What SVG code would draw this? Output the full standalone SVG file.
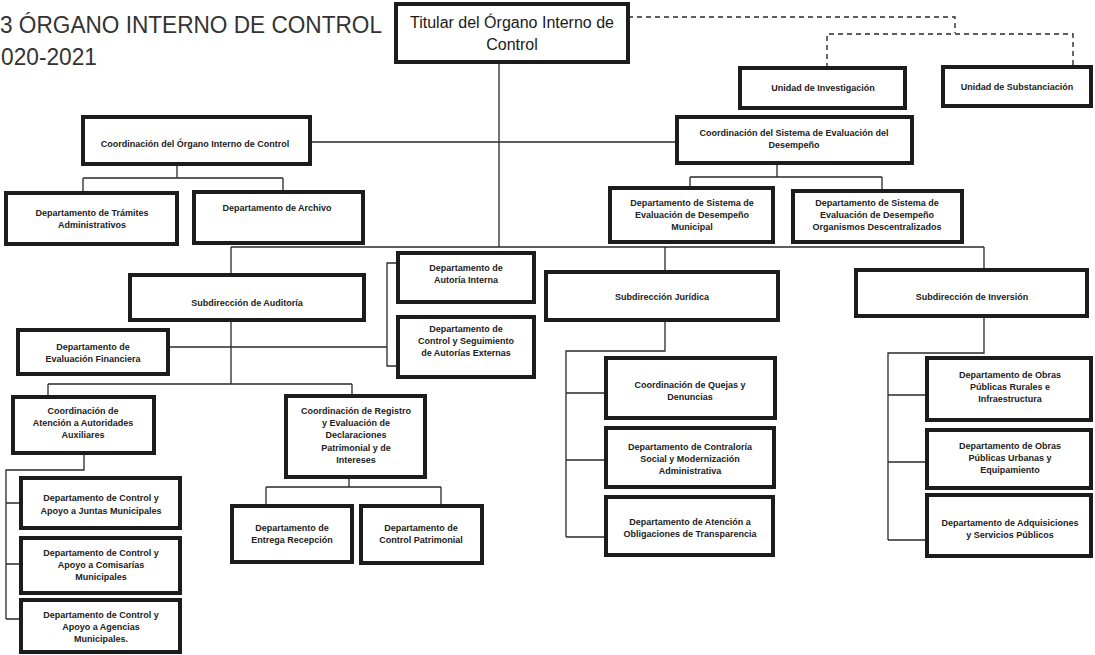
<svg xmlns="http://www.w3.org/2000/svg" width="1095" height="655" viewBox="0 0 1095 655">
<style>
.box{fill:#fff;stroke:#1c1c1c;stroke-width:4}
.t{font-family:"Liberation Sans",Arial,sans-serif;font-size:9px;font-weight:bold;fill:#222;text-anchor:middle}
.big{font-family:"Liberation Sans",Arial,sans-serif;font-size:16px;fill:#1a1a1a;text-anchor:middle}
.title{font-family:"Liberation Sans",Arial,sans-serif;font-size:23px;fill:#333}
.c{fill:none;stroke:#2a2a2a;stroke-width:1.3}
.d{fill:none;stroke:#2a2a2a;stroke-width:1.4;stroke-dasharray:5 4}
</style>
<rect width="1095" height="655" fill="#fff"/>
<g id="title">
<text class="title" x="0" y="33" textLength="382" lengthAdjust="spacingAndGlyphs">3 ÓRGANO INTERNO DE CONTROL</text>
<text class="title" x="1" y="65" textLength="96" lengthAdjust="spacingAndGlyphs">020-2021</text>
</g>
<g id="connectors">
<path class="d" d="M628 17H955V33M827 68V34H1073V67"/>
<path class="c" d="M499 62V247M310 142H677M231 247H984M231 247V275M665 247V272M984 247V270"/>
<path class="c" d="M177 164V178M83 178H283M83 178V193M283 178V192"/>
<path class="c" d="M777 163V177M690 177H882M690 177V188M882 177V191"/>
<path class="c" d="M231 320V384M48 384H352M48 384V397M352 384V396M168 347H387M398 263H387V366H398"/>
<path class="c" d="M84 453V470H6V619M6 503H21M6 564H21M6 619H21"/>
<path class="c" d="M349 477V487M266 487H441M266 487V506M441 487V506"/>
<path class="c" d="M665 320V351H566V537M566 393H606M566 460H606M566 537H606"/>
<path class="c" d="M984 316V353H888V540M888 395H927M888 462H927M888 540H927"/>
</g>
<g id="titular">
<rect class="box" x="396" y="4" width="232" height="58"/>
<text class="big" x="512" y="28">Titular del Órgano Interno de</text>
<text class="big" x="512" y="50">Control</text>
</g>
<g id="unidad-investigacion">
<rect class="box" x="740" y="68" width="165" height="40"/>
<text class="t" x="823" y="91">Unidad de Investigación</text>
</g>
<g id="unidad-substanciacion">
<rect class="box" x="943" y="67" width="148" height="39"/>
<text class="t" x="1017" y="90">Unidad de Substanciación</text>
</g>
<g id="coord-organo">
<rect class="box" x="83" y="117" width="227" height="47"/>
<text class="t" x="195" y="147">Coordinación del Órgano Interno de Control</text>
</g>
<g id="coord-sistema">
<rect class="box" x="677" y="117" width="235" height="46"/>
<text class="t" x="794" y="136">Coordinación del Sistema de Evaluación del</text>
<text class="t" x="794" y="148">Desempeño</text>
</g>
<g id="dep-tramites">
<rect class="box" x="6" y="193" width="171" height="51"/>
<text class="t" x="92" y="216">Departamento de Trámites</text>
<text class="t" x="92" y="228">Administrativos</text>
</g>
<g id="dep-archivo">
<rect class="box" x="194" y="192" width="169" height="51"/>
<text class="t" x="277" y="211">Departamento de Archivo</text>
</g>
<g id="dep-municipal">
<rect class="box" x="610" y="188" width="163" height="54"/>
<text class="t" x="692" y="206">Departamento de Sistema de</text>
<text class="t" x="692" y="218">Evaluación de Desempeño</text>
<text class="t" x="692" y="230">Municipal</text>
</g>
<g id="dep-organismos">
<rect class="box" x="793" y="191" width="169" height="51"/>
<text class="t" x="877" y="206">Departamento de Sistema de</text>
<text class="t" x="877" y="218">Evaluación de Desempeño</text>
<text class="t" x="877" y="230">Organismos Descentralizados</text>
</g>
<g id="subdir-auditoria">
<rect class="box" x="130" y="275" width="234" height="45"/>
<text class="t" x="247" y="306">Subdirección de Auditoría</text>
</g>
<g id="dep-autoria-interna">
<rect class="box" x="398" y="253" width="136" height="49"/>
<text class="t" x="466" y="271">Departamento de</text>
<text class="t" x="466" y="283">Autoría Interna</text>
</g>
<g id="dep-control-seguimiento">
<rect class="box" x="398" y="317" width="136" height="60"/>
<text class="t" x="466" y="332">Departamento de</text>
<text class="t" x="466" y="344">Control y Seguimiento</text>
<text class="t" x="466" y="356">de Autorías Externas</text>
</g>
<g id="dep-eval-financiera">
<rect class="box" x="18" y="330" width="150" height="44"/>
<text class="t" x="93" y="350">Departamento de</text>
<text class="t" x="93" y="362">Evaluación Financiera</text>
</g>
<g id="subdir-juridica">
<rect class="box" x="546" y="272" width="232" height="48"/>
<text class="t" x="662" y="300">Subdirección Jurídica</text>
</g>
<g id="subdir-inversion">
<rect class="box" x="856" y="270" width="231" height="46"/>
<text class="t" x="972" y="300">Subdirección de Inversión</text>
</g>
<g id="coord-atencion">
<rect class="box" x="13" y="397" width="141" height="56"/>
<text class="t" x="83" y="414">Coordinación de</text>
<text class="t" x="83" y="426">Atención a Autoridades</text>
<text class="t" x="83" y="438">Auxiliares</text>
</g>
<g id="coord-registro">
<rect class="box" x="286" y="396" width="139" height="81"/>
<text class="t" x="356" y="414">Coordinación de Registro</text>
<text class="t" x="356" y="426">y Evaluación de</text>
<text class="t" x="356" y="438">Declaraciones</text>
<text class="t" x="356" y="451">Patrimonial y de</text>
<text class="t" x="356" y="463">Intereses</text>
</g>
<g id="dep-entrega">
<rect class="box" x="232" y="506" width="120" height="56"/>
<text class="t" x="292" y="531">Departamento de</text>
<text class="t" x="292" y="543">Entrega Recepción</text>
</g>
<g id="dep-control-patrimonial">
<rect class="box" x="361" y="506" width="121" height="57"/>
<text class="t" x="421" y="531">Departamento de</text>
<text class="t" x="421" y="543">Control Patrimonial</text>
</g>
<g id="dep-juntas">
<rect class="box" x="21" y="478" width="159" height="50"/>
<text class="t" x="101" y="501">Departamento de Control y</text>
<text class="t" x="101" y="514">Apoyo a Juntas Municipales</text>
</g>
<g id="dep-comisarias">
<rect class="box" x="21" y="538" width="159" height="55"/>
<text class="t" x="101" y="556">Departamento de Control y</text>
<text class="t" x="101" y="568">Apoyo a Comisarías</text>
<text class="t" x="101" y="580">Municipales</text>
</g>
<g id="dep-agencias">
<rect class="box" x="21" y="600" width="159" height="52"/>
<text class="t" x="101" y="618">Departamento de Control y</text>
<text class="t" x="101" y="630">Apoyo a Agencias</text>
<text class="t" x="101" y="642">Municipales.</text>
</g>
<g id="coord-quejas">
<rect class="box" x="606" y="358" width="169" height="60"/>
<text class="t" x="690" y="388">Coordinación de Quejas y</text>
<text class="t" x="690" y="400">Denuncias</text>
</g>
<g id="dep-contraloria">
<rect class="box" x="606" y="428" width="168" height="59"/>
<text class="t" x="690" y="450">Departamento de Contraloría</text>
<text class="t" x="690" y="462">Social y Modernización</text>
<text class="t" x="690" y="474">Administrativa</text>
</g>
<g id="dep-transparencia">
<rect class="box" x="606" y="497" width="167" height="58"/>
<text class="t" x="690" y="525">Departamento de Atención a</text>
<text class="t" x="690" y="537">Obligaciones de Transparencia</text>
</g>
<g id="dep-obras-rurales">
<rect class="box" x="927" y="358" width="164" height="62"/>
<text class="t" x="1010" y="378">Departamento de Obras</text>
<text class="t" x="1010" y="390">Públicas Rurales e</text>
<text class="t" x="1010" y="402">Infraestructura</text>
</g>
<g id="dep-obras-urbanas">
<rect class="box" x="927" y="430" width="164" height="58"/>
<text class="t" x="1010" y="449">Departamento de Obras</text>
<text class="t" x="1010" y="461">Públicas Urbanas y</text>
<text class="t" x="1010" y="473">Equipamiento</text>
</g>
<g id="dep-adquisiciones">
<rect class="box" x="927" y="495" width="164" height="61"/>
<text class="t" x="1010" y="526">Departamento de Adquisiciones</text>
<text class="t" x="1010" y="538">y Servicios Públicos</text>
</g>
</svg>
